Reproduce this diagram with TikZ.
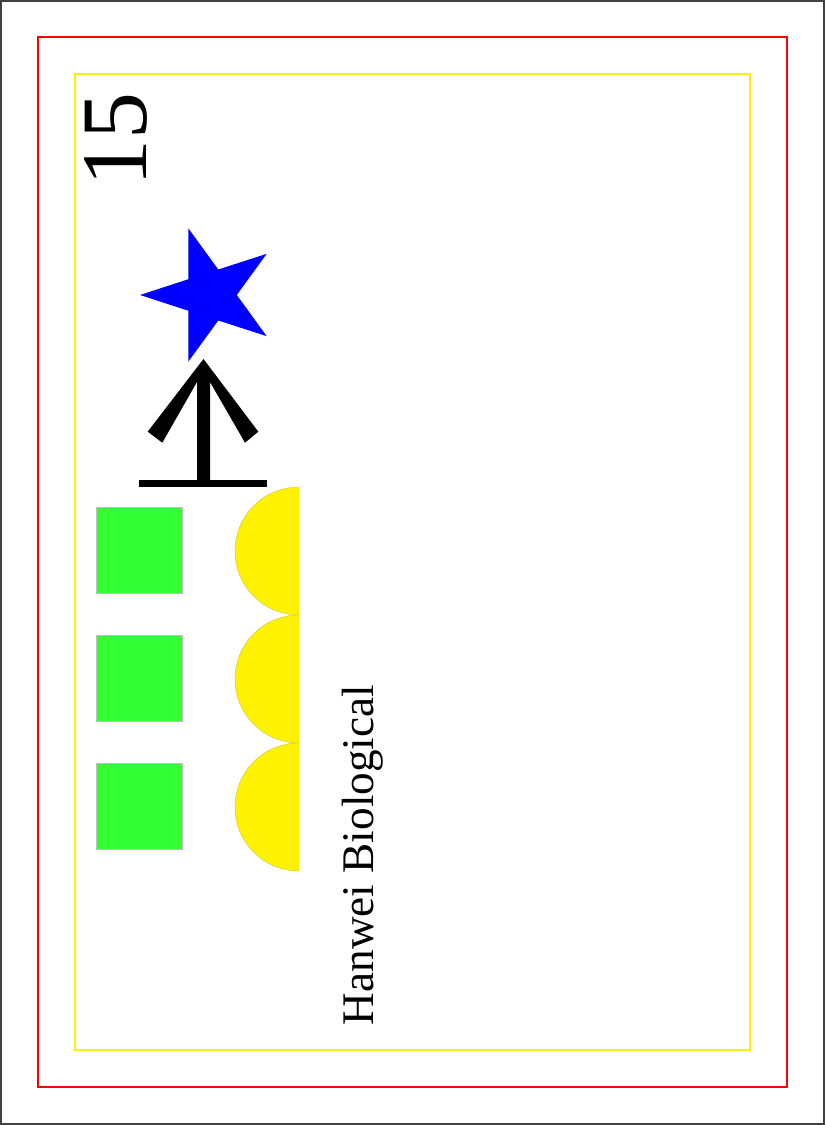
\documentclass[tikz,border=0pt]{standalone}
\usepackage{fontspec}
\setmainfont{Liberation Serif}
\definecolor{cellgreen}{RGB}{51,255,51}
\definecolor{starblue}{RGB}{0,0,255}
\tikzstyle{cellbox} = [rectangle, minimum size=2.58cm, inner sep=0pt, draw=black!25, line width=0.4pt, fill=cellgreen]
\tikzstyle{bead} = [fill=yellow, draw=yellow!75!black, line width=0.3pt]
\tikzstyle{sidetext} = [rotate=90, inner sep=0pt, text=black]
\tikzstyle{frame} = [line width=1pt]

\begin{document}
\begin{tikzpicture}[x=0.03cm, y=0.03cm, node distance=3.84cm]
        \useasboundingbox (0,0) rectangle (825,1125);
        % Frames
        \draw [frame, draw=black!75, line width=1.4pt] (1,1) rectangle (824,1124);
        \draw [frame, draw=red] (38,38) rectangle (787,1088);
        \draw [frame, draw=yellow] (75,75) rectangle (750,1051);

        % Texts
        \node (num) [sidetext, font=\fontsize{80}{80}\selectfont] at (116,985) {15};
        \node (brand) [sidetext, anchor=base, font=\fontsize{38.6}{40}\selectfont] at (373,270) {Hanwei Biological};

        % Star
        \fill [starblue, shift={(210,830)}] (180:70) -- (144:26.8) -- (108:70) -- (72:26.8) -- (36:70)
            -- (0:26.8) -- (-36:70) -- (-72:26.8) -- (-108:70) -- (-144:26.8) -- cycle;

        % Antibody
        \fill [black] (203.5,766) -- (147.7,693.3) -- (162.3,682.3) -- (197,743) -- (197,645)
            -- (210,645) -- (210,743) -- (245,682.3) -- (258.3,693.3) -- cycle;
        \fill [black] (139,638) rectangle (267,645);

        % Cells
        \node (cell1) [cellbox] at (139,574.5) {};
        \node (cell2) [cellbox, below of=cell1] {};
        \node (cell3) [cellbox, below of=cell2] {};

        % Beads
        \foreach \cy in {574,446,318}
            \draw [bead] (299,\cy+64) arc (90:270:64) -- cycle;
    \end{tikzpicture}
\end{document}
